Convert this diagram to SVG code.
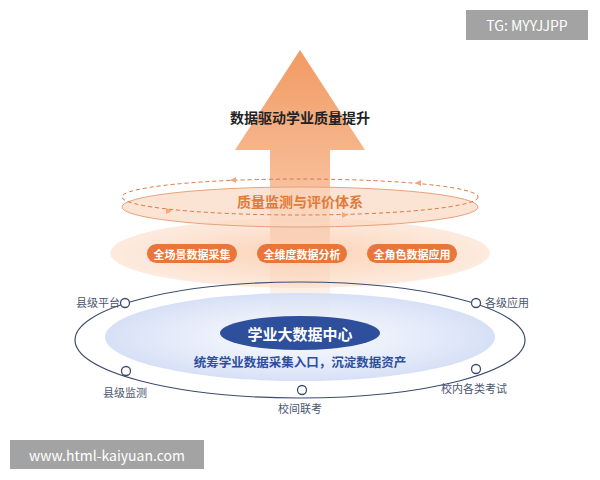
<svg xmlns="http://www.w3.org/2000/svg" width="600" height="480" viewBox="0 0 600 480">
<defs>
<linearGradient id="arr" x1="0" y1="0" x2="0" y2="1">
<stop offset="0" stop-color="#f29a62"/><stop offset="0.45" stop-color="#f7bc96"/><stop offset="1" stop-color="#fde6d6" stop-opacity="0.2"/>
</linearGradient>
<radialGradient id="blue" cx="0.5" cy="0.5" r="0.5">
<stop offset="0" stop-color="#f4f6fd" stop-opacity="0.6"/><stop offset="1" stop-color="#d6e0f6"/>
</radialGradient>
<radialGradient id="org" cx="0.5" cy="0.5" r="0.5">
<stop offset="0" stop-color="#fbd3b8"/><stop offset="1" stop-color="#fdebdf"/>
</radialGradient>
<style>
text{font-family:"Noto Sans CJK SC","Liberation Sans",sans-serif;text-anchor:middle;dominant-baseline:central}
.lbl{font-size:11px;fill:#4a5670}
.pill{fill:#e8763a}
.pt{font-size:11px;fill:#fff;font-weight:bold}
.dot{fill:#fff;stroke:#3d4c6e;stroke-width:1.3}
</style>
</defs>
<rect width="600" height="480" fill="#fff"/>
<g id="middle-disk">
<ellipse cx="300" cy="253" rx="190" ry="35" fill="url(#org)"/>
</g>
<g id="arrow">
<path d="M300,50 L365,150 L330,150 L330,335 L270,335 L270,150 L235,150 Z" fill="url(#arr)"/>
</g>
<g id="base">
<ellipse cx="300" cy="340" rx="225" ry="58" fill="none" stroke="#3d4c6e" stroke-width="1.2"/>
<ellipse cx="300" cy="337" rx="195" ry="44" fill="url(#blue)"/>
</g>
<g id="quality">
<ellipse cx="300" cy="207" rx="178" ry="20" fill="#fbd9c2" fill-opacity="0.7" stroke="#e8a27a" stroke-width="1"/>
<ellipse cx="300" cy="197" rx="178" ry="18" fill="none" stroke="#d9763e" stroke-width="1" stroke-dasharray="4 3"/>
<path d="M230,180 l6,-3 v6 z M415,183 l6,-3 v6 z" fill="#f3a77c"/>
<path d="M172,211 l-6,-3 v6 z M348,215 l-6,-3 v6 z" fill="#f3a77c"/>
<text x="300" y="201" font-size="14" font-weight="bold" fill="#e07a3a">质量监测与评价体系</text>
</g>
<g id="title"><text x="300" y="117" font-size="14" font-weight="bold" fill="#222">数据驱动学业质量提升</text></g>
<g id="p1"><rect class="pill" x="147" y="244" width="90" height="19" rx="9.5"/><text class="pt" x="192" y="253.5">全场景数据采集</text></g>
<g id="p2"><rect class="pill" x="257" y="244" width="90" height="19" rx="9.5"/><text class="pt" x="302" y="253.5">全维度数据分析</text></g>
<g id="p3"><rect class="pill" x="367" y="244" width="90" height="19" rx="9.5"/><text class="pt" x="412" y="253.5">全角色数据应用</text></g>
<g id="center">
<ellipse cx="300" cy="333" rx="80" ry="17" fill="#2e4f9b"/>
<text x="300" y="333" font-size="15" font-weight="bold" fill="#fff">学业大数据中心</text>
<text x="300" y="361" font-size="12.5" font-weight="bold" fill="#2e4f9b">统筹学业数据采集入口，沉淀数据资产</text>
</g>
<g id="n1"><circle class="dot" cx="125" cy="303" r="4.5"/><text class="lbl" x="98" y="302">县级平台</text></g>
<g id="n2"><circle class="dot" cx="476" cy="303" r="4.5"/><text class="lbl" x="507" y="302">各级应用</text></g>
<g id="n3"><circle class="dot" cx="126" cy="371" r="4.5"/><text class="lbl" x="125" y="392">县级监测</text></g>
<g id="n4"><circle class="dot" cx="302" cy="390" r="4.5"/><text class="lbl" x="300" y="408">校间联考</text></g>
<g id="n5"><circle class="dot" cx="476" cy="369" r="4.5"/><text class="lbl" x="474" y="388">校内各类考试</text></g>
<g id="wm">
<rect x="466" y="10" width="122" height="30" fill="#a3a3a3"/>
<text x="527" y="25" font-size="14" fill="#fff" font-family="Liberation Sans,sans-serif">TG: MYYJJPP</text>
<rect x="10" y="440" width="194" height="29" fill="#a3a3a3"/>
<text x="107" y="454.5" font-size="14" fill="#fff" font-family="Liberation Sans,sans-serif">www.html-kaiyuan.com</text>
</g>
</svg>
